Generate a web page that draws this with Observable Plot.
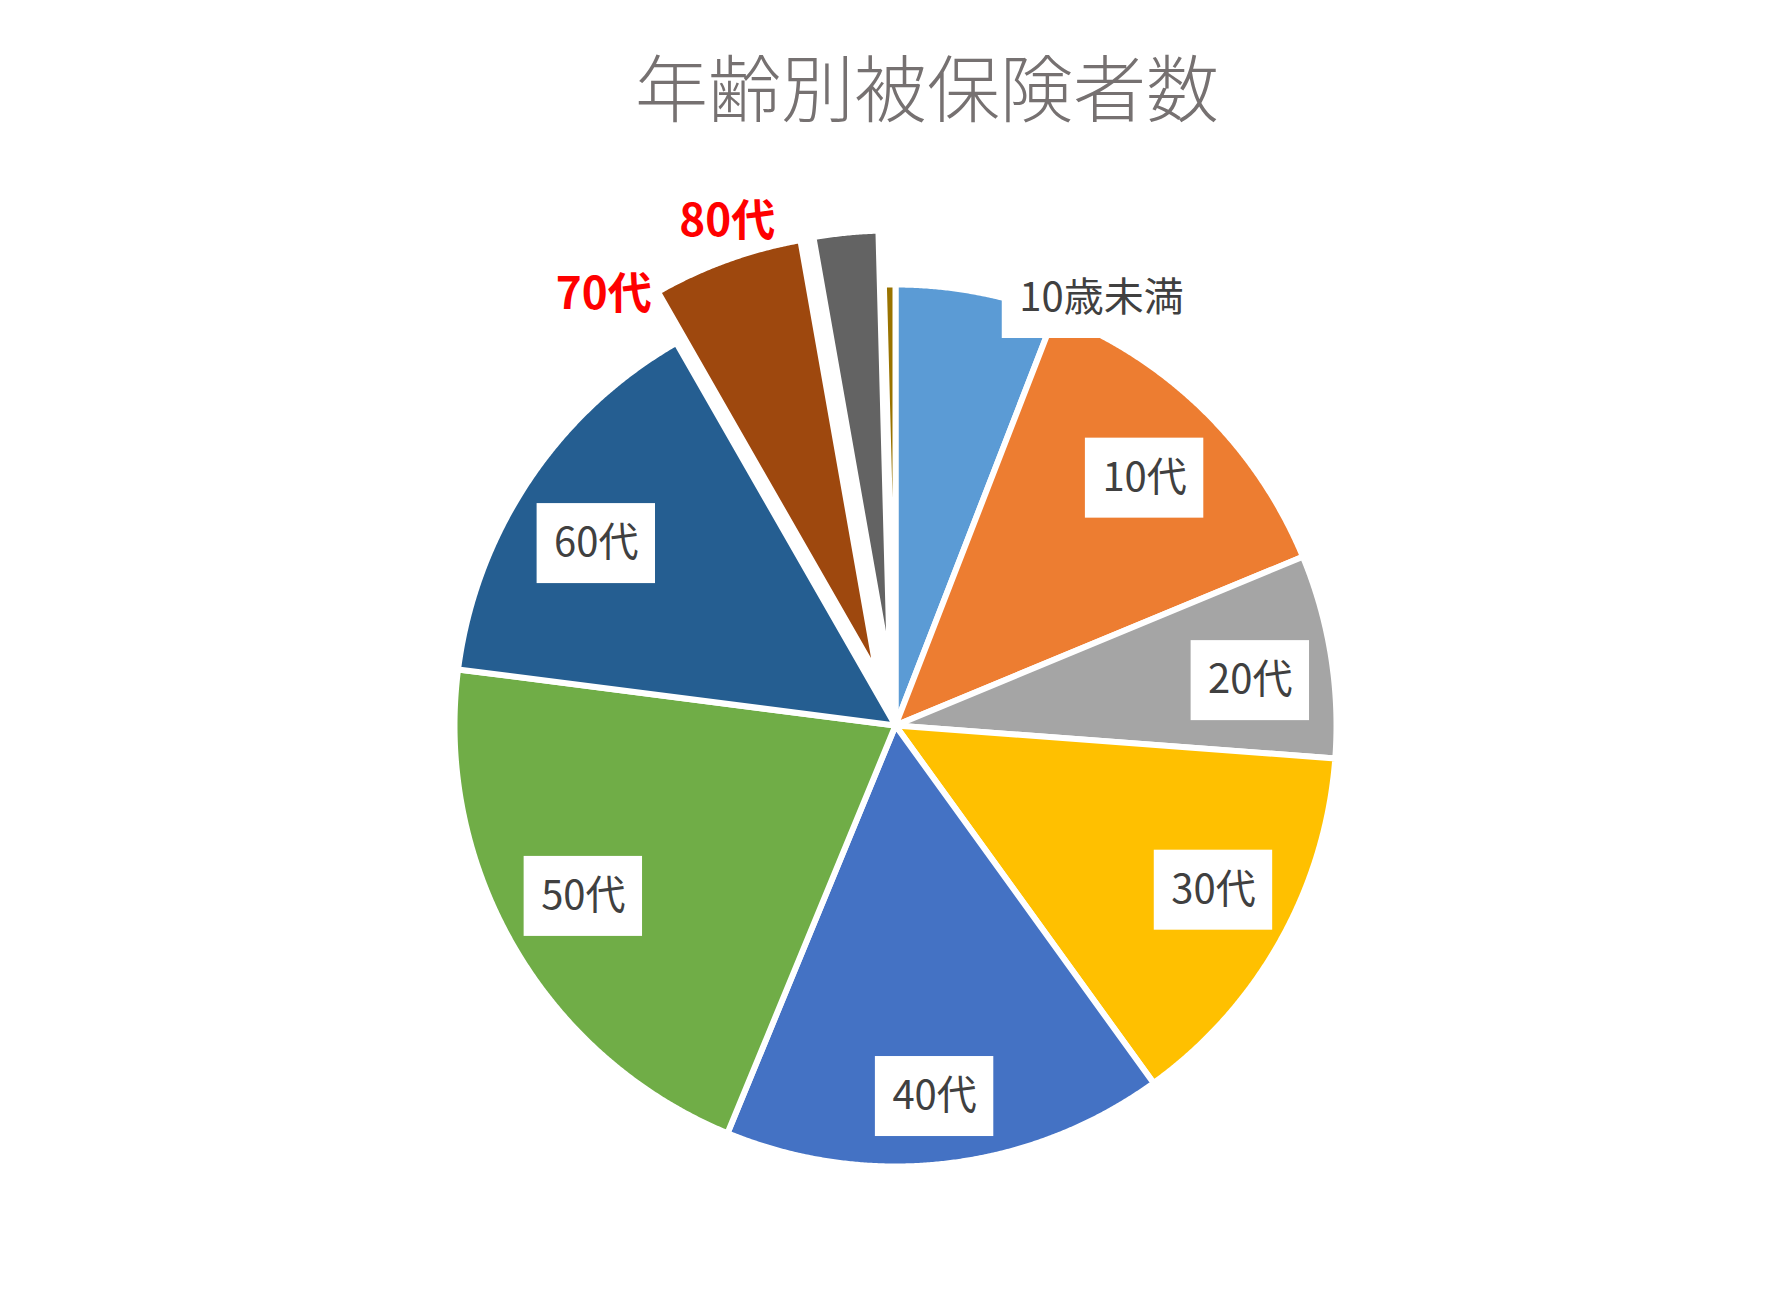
<!DOCTYPE html>
<html><head><meta charset="utf-8">
<script src="https://cdn.jsdelivr.net/npm/d3@7"></script>
<script src="https://cdn.jsdelivr.net/npm/@observablehq/plot@0.6"></script>
<style>
html,body{margin:0;padding:0;background:#fff;}
#title{height:150px;box-sizing:border-box;padding-top:48px;padding-left:64px;text-align:center;
  font-family:"Noto Sans CJK JP",sans-serif;font-size:73px;line-height:1;color:#767171;font-weight:300;}
#chart svg{display:block;}
</style></head>
<body>
<div id="title">年齢別被保険者数</div>
<div id="chart"></div>
<script>
// ---- data ----
const categories = ["10歳未満","10代","20代","30代","40代","50代","60代","70代","80代","90歳以上"];
const shares = [5.89, 12.86, 7.44, 13.86, 16.17, 20.81, 14.69, 5.50, 2.36, 0.42];
const sliceColors = ["#5B9BD5","#ED7D31","#A5A5A5","#FFC000","#4472C4","#70AD47","#255E91","#9E480E","#636363","#997300"];
const explodedCategories = ["70代","80代"];
const highlightedCategories = ["70代","80代"];
const unlabelledCategories = ["90歳以上"];

// ---- layout ----
const W = 1790, H = 1139, CX = 895, CY = 575, R = 441;
const EXPLODE = 0.123;
const BORDER = 6;
const labelPlacement = {
  "10歳未満": {angle: 25.75, r: 1.075},
  "10代": {dAngle: 0.85, r: 0.796},
  "20代": {dAngle: 1.9, r: 0.811},
  "30代": {dAngle: -1.85, r: 0.812},
  "40代": {dAngle: 0.7, r: 0.846},
  "50代": {dAngle: 1.45, r: 0.807},
  "60代": {dAngle: -2.45, r: 0.794},
  "70代": {angle: 325.9, r: 1.18},
  "80代": {angle: 341.5, r: 1.203}
};

const rows = categories.map((c, i) => ({category: c, value: shares[i]}));
const arcs = d3.pie().sort(null).value(d => d.value)(rows);

const points = [];
for (const a of arcs) {
  const cat = a.data.category;
  const mid = (a.startAngle + a.endAngle) / 2;
  const e = explodedCategories.includes(cat) ? EXPLODE : 0;
  const ox = e * Math.sin(mid), oy = e * Math.cos(mid);
  const n = Math.max(2, Math.ceil((a.endAngle - a.startAngle) / 0.004));
  points.push({category: cat, x: ox, y: oy});
  for (let k = 0; k <= n; k++) {
    const t = a.startAngle + (a.endAngle - a.startAngle) * k / n;
    points.push({category: cat, x: ox + Math.sin(t), y: oy + Math.cos(t)});
  }
  points.push({category: cat, x: ox, y: oy});
}

const ctx = document.createElement("canvas").getContext("2d");
const labels = arcs.filter(a => !unlabelledCategories.includes(a.data.category)).map(a => {
  const cat = a.data.category;
  const p = labelPlacement[cat] || {};
  const midDeg = (a.startAngle + a.endAngle) / 2 * 180 / Math.PI;
  const ang = (p.angle ?? (midDeg + (p.dAngle || 0))) * Math.PI / 180;
  const r = p.r ?? 0.81;
  const hl = highlightedCategories.includes(cat);
  const fs = hl ? 44 : 40;
  ctx.font = `${hl ? "bold " : ""}${fs}px "Noto Sans CJK JP"`;
  const tw = ctx.measureText(cat).width;
  const x = r * Math.sin(ang), y = r * Math.cos(ang);
  const bw = (tw + 34) / R / 2, bh = 80 / R / 2;
  return {category: cat, x, y, highlighted: hl, x1: x - bw, x2: x + bw, y1: y - bh, y2: y + bh};
});

const plot = Plot.plot({
  width: W, height: H, margin: 0,
  x: {domain: [-CX / R, (W - CX) / R], axis: null},
  y: {domain: [-(H - CY) / R, CY / R], axis: null},
  color: {domain: categories, range: sliceColors},
  style: {fontFamily: '"Noto Sans CJK JP", sans-serif', background: "white"},
  marks: [
    Plot.line(points, {x: "x", y: "y", z: "category", fill: "category", stroke: "white",
      strokeWidth: BORDER, strokeLinejoin: "round", curve: "linear"}),
    Plot.rect(labels.filter(d => !d.highlighted), {x1: "x1", x2: "x2", y1: "y1", y2: "y2", fill: "white"}),
    Plot.text(labels.filter(d => !d.highlighted), {x: "x", y: "y", text: "category", fontSize: 40,
      fill: "#404040", lineAnchor: "middle"}),
    Plot.text(labels.filter(d => d.highlighted), {x: "x", y: "y", text: "category", fontSize: 44,
      fontWeight: "bold", fill: "#FF0000", lineAnchor: "middle"})
  ]
});
document.getElementById("chart").appendChild(plot);
</script>
</body></html>
